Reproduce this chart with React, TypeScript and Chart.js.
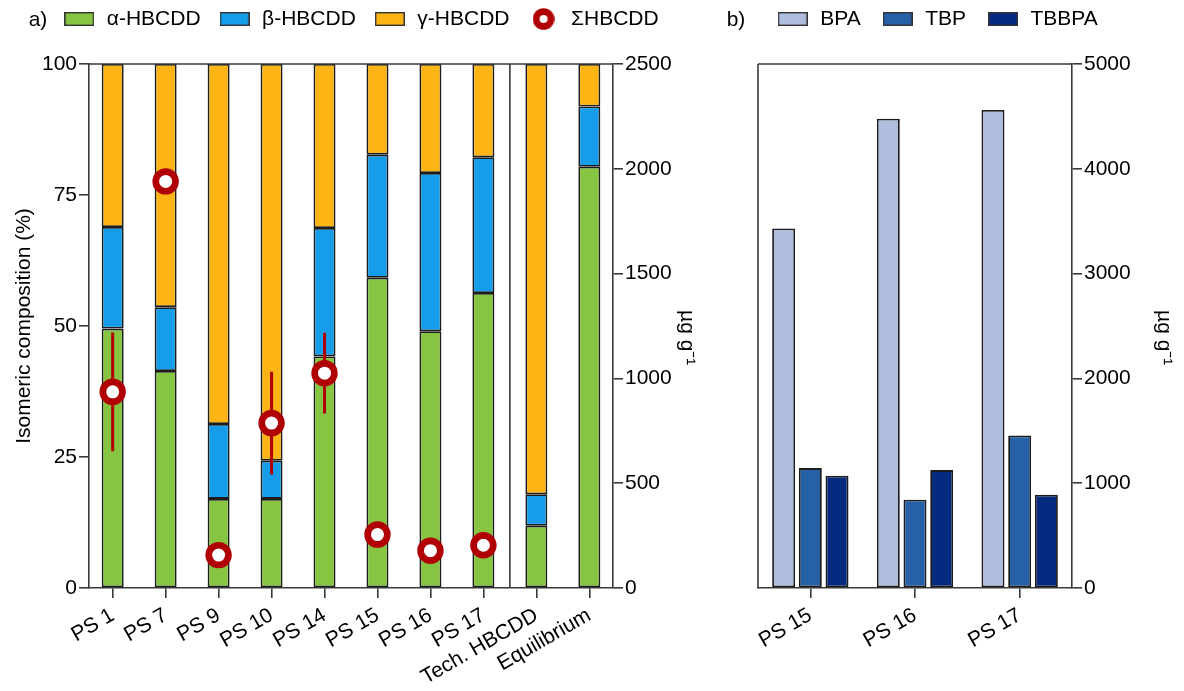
import React, { useEffect, useRef } from 'react';
import { Chart, registerables } from 'chart.js';

Chart.register(...registerables);

// ---------- data: panel a ----------
const categoriesA = ['PS 1', 'PS 7', 'PS 9', 'PS 10', 'PS 14', 'PS 15', 'PS 16', 'PS 17', 'Tech. HBCDD', 'Equilibrium'];
const alphaHBCDD = [49.5, 41.4, 17.0, 17.0, 44.2, 59.2, 49.0, 56.3, 11.9, 80.4];
const betaHBCDD = [19.4, 12.2, 14.3, 7.3, 24.5, 23.5, 30.2, 25.9, 6.0, 11.5];
const gammaHBCDD = [31.1, 46.4, 68.7, 75.7, 31.3, 17.3, 20.8, 17.8, 82.1, 8.1];
const sumHBCDD = [936, 1940, 157, 787, 1025, 255, 178, 204, null, null];
const sumHBCDDError = [283, 0, 0, 245, 193, 0, 0, 0, null, null];
const seriesLabelsA = ['α-HBCDD', 'β-HBCDD', 'γ-HBCDD', 'ΣHBCDD'];

// ---------- data: panel b ----------
const categoriesB = ['PS 15', 'PS 16', 'PS 17'];
const bpa = [3430, 4478, 4561];
const tbp = [1144, 842, 1455];
const tbbpa = [1071, 1125, 890];
const seriesLabelsB = ['BPA', 'TBP', 'TBBPA'];

// ---------- styles ----------
const FONT = '"Liberation Sans", Arial, Helvetica, sans-serif';
const AXIS = '#3a3a3a';
const EDGE = '#1c1c1c';
const GREEN = '#86C541';
const BLUE = '#159DE9';
const ORANGE = '#FDB515';
const RED = '#B00004';
const BPA_C = '#B0BEDE';
const TBP_C = '#2660A6';
const TBBPA_C = '#052A80';

Chart.defaults.font.family = FONT;
Chart.defaults.font.size = 21;
Chart.defaults.color = '#000';

function rectMarker(fill: string) {
  const c = document.createElement('canvas');
  c.width = 30;
  c.height = 14;
  const g = c.getContext('2d')!;
  g.fillStyle = fill;
  g.fillRect(0, 0, 30, 14);
  g.strokeStyle = '#333';
  g.lineWidth = 1.4;
  g.strokeRect(0.7, 0.7, 28.6, 12.6);
  return c;
}

function ringMarker(color: string) {
  const c = document.createElement('canvas');
  c.width = 22;
  c.height = 22;
  const g = c.getContext('2d')!;
  g.fillStyle = '#fff';
  g.beginPath();
  g.arc(11, 11, 7.4, 0, Math.PI * 2);
  g.fill();
  g.strokeStyle = color;
  g.lineWidth = 6.8;
  g.stroke();
  return c;
}

const legendPlacement = {
  id: 'legendPlacement',
  beforeLayout(chart: any, _a: any, opts: any) {
    const lg = chart.legend;
    if (lg && !lg.__fixed) {
      const orig = lg.fit.bind(lg);
      lg.fit = function () {
        orig();
        this.height = opts.height;
      };
      lg.__fixed = true;
    }
  },
  beforeDraw(chart: any, _a: any, opts: any) {
    const lg = chart.legend;
    if (!lg) return;
    lg.left = opts.left;
    lg.right = opts.left + 2000;
    lg.top = opts.top;
    lg.bottom = opts.top + opts.height + 20;
  },
};

const framePlugin = {
  id: 'frame',
  afterDatasetsDraw(chart: any, _a: any, opts: any) {
    const { ctx, chartArea } = chart;
    const { left, right, top, bottom } = chartArea;
    ctx.save();
    ctx.strokeStyle = AXIS;
    ctx.lineWidth = 1.6;
    ctx.beginPath();
    ctx.moveTo(left, top);
    ctx.lineTo(right, top);
    if (opts.left) {
      ctx.moveTo(left, top);
      ctx.lineTo(left, bottom);
    }
    (opts.separators || []).forEach((v: number) => {
      const x = chart.scales.x.getPixelForValue(v);
      ctx.moveTo(x, top);
      ctx.lineTo(x, bottom);
    });
    ctx.stroke();
    ctx.restore();
  },
};

const errorBarPlugin = {
  id: 'errorBars',
  beforeDatasetDraw(chart: any, args: any, opts: any) {
    if (args.index !== opts.datasetIndex) return;
    const meta = args.meta;
    const yScale = chart.scales[meta.yAxisID];
    const ctx = chart.ctx;
    ctx.save();
    ctx.strokeStyle = RED;
    ctx.lineWidth = 3;
    ctx.beginPath();
    meta.data.forEach((pt: any, i: number) => {
      const v = opts.values[i];
      const e = opts.errors[i];
      if (v == null || !e) return;
      ctx.moveTo(pt.x, yScale.getPixelForValue(v + e));
      ctx.lineTo(pt.x, yScale.getPixelForValue(v - e));
    });
    ctx.stroke();
    ctx.restore();
  },
};

const tickFont = { size: 21, family: FONT };
const plainNumber = (v: any) => String(v);

function makeChartA(canvas: HTMLCanvasElement) {
  const markers = [rectMarker(GREEN), rectMarker(BLUE), rectMarker(ORANGE), ringMarker(RED)];
  const barCommon = {
    type: 'bar' as const,
    borderColor: EDGE,
    borderWidth: 1.8,
    borderSkipped: false,
    yAxisID: 'y',
    order: 1,
    categoryPercentage: 0.5,
    barPercentage: 0.83,
  };
  return new Chart(canvas, {
    type: 'bar',
    data: {
      datasets: [
        { ...barCommon, label: seriesLabelsA[0], data: categoriesA.map((_, i) => ({ x: i, y: alphaHBCDD[i] })), backgroundColor: GREEN },
        { ...barCommon, label: seriesLabelsA[1], data: categoriesA.map((_, i) => ({ x: i, y: betaHBCDD[i] })), backgroundColor: BLUE },
        { ...barCommon, label: seriesLabelsA[2], data: categoriesA.map((_, i) => ({ x: i, y: gammaHBCDD[i] })), backgroundColor: ORANGE },
        {
          type: 'line',
          label: seriesLabelsA[3],
          data: categoriesA.map((_, i) => ({ x: i, y: sumHBCDD[i] })),
          yAxisID: 'y2',
          showLine: false,
          order: 0,
          pointStyle: 'circle',
          pointRadius: 9.85,
          pointBorderWidth: 6.7,
          pointBackgroundColor: '#fff',
          pointBorderColor: RED,
          borderColor: RED,
          backgroundColor: '#fff',
        } as any,
      ],
    },
    options: {
      responsive: false,
      animation: false,
      events: [],
      layout: { padding: 0 },
      plugins: {
        tooltip: { enabled: false },
        legend: {
          display: true,
          position: 'top',
          align: 'start',
          labels: {
            usePointStyle: true,
            pointStyleWidth: 34,
            padding: 17,
            color: '#000',
            font: { size: 21, family: FONT },
            sort: (a: any, b: any) => a.datasetIndex - b.datasetIndex,
            generateLabels: (chart: any) => {
              const items = (Chart.defaults.plugins.legend.labels as any).generateLabels(chart);
              return items.map((it: any) => ({ ...it, pointStyle: markers[it.datasetIndex], lineWidth: 0 }));
            },
          },
        },
        legendPlacement: { height: 64, left: 45.3, top: -8.5 },
        frame: { left: false, separators: [7.5] },
        errorBars: { datasetIndex: 3, values: sumHBCDD, errors: sumHBCDDError },
      } as any,
      scales: {
        x: {
          type: 'linear',
          min: -0.447,
          max: 9.447,
          offset: false,
          stacked: true,
          afterBuildTicks: (s: any) => {
            s.ticks = categoriesA.map((_, i) => ({ value: i }));
          },
          afterFit: (s: any) => {
            s.height = 103;
          },
          ticks: {
            callback: (v: any) => categoriesA[v],
            autoSkip: false,
            minRotation: 30,
            maxRotation: 30,
            padding: 5,
            font: tickFont,
            color: '#000',
          },
          grid: { display: true, drawOnChartArea: false, drawTicks: true, tickLength: 10, color: AXIS, lineWidth: 1.6, offset: false },
          border: { display: true, color: AXIS, width: 1.6 },
        },
        y: {
          position: 'left',
          stacked: true,
          min: 0,
          max: 100,
          ticks: { stepSize: 25, padding: 2, font: tickFont, color: '#000', callback: plainNumber },
          grid: { drawOnChartArea: false, tickLength: 10, color: AXIS, lineWidth: 1.6 },
          border: { display: true, color: AXIS, width: 1.6 },
          title: { display: true, text: 'Isomeric composition (%)', color: '#000', font: { size: 21, family: FONT }, padding: { top: 11.7, bottom: 0 } },
          afterFit: (s: any) => {
            s.width = 89;
          },
        },
        y2: {
          position: 'right',
          min: 0,
          max: 2500,
          ticks: { stepSize: 500, padding: 2, font: tickFont, color: '#000', callback: plainNumber },
          grid: { drawOnChartArea: false, tickLength: 10, color: AXIS, lineWidth: 1.6 },
          border: { display: true, color: AXIS, width: 1.6 },
          title: { display: true, text: '    µg g⁻¹', color: '#000', font: { size: 21, family: FONT }, padding: { top: 0.4, bottom: 0 } },
          afterFit: (s: any) => {
            s.width = 87;
          },
        },
      } as any,
    },
    plugins: [legendPlacement, framePlugin, errorBarPlugin] as any,
  });
}

function makeChartB(canvas: HTMLCanvasElement) {
  const markers = [rectMarker(BPA_C), rectMarker(TBP_C), rectMarker(TBBPA_C)];
  const barCommon = {
    borderColor: EDGE,
    borderWidth: 1.8,
    borderSkipped: false,
    categoryPercentage: 0.765,
    barPercentage: 0.86,
  };
  return new Chart(canvas, {
    type: 'bar',
    data: {
      labels: categoriesB,
      datasets: [
        { ...barCommon, label: seriesLabelsB[0], data: bpa, backgroundColor: BPA_C },
        { ...barCommon, label: seriesLabelsB[1], data: tbp, backgroundColor: TBP_C },
        { ...barCommon, label: seriesLabelsB[2], data: tbbpa, backgroundColor: TBBPA_C },
      ] as any,
    },
    options: {
      responsive: false,
      animation: false,
      events: [],
      layout: { padding: { left: 58, right: 0, top: 0, bottom: 0 } },
      plugins: {
        tooltip: { enabled: false },
        legend: {
          display: true,
          position: 'top',
          align: 'start',
          labels: {
            usePointStyle: true,
            pointStyleWidth: 34,
            padding: 20,
            color: '#000',
            font: { size: 21, family: FONT },
            generateLabels: (chart: any) => {
              const items = (Chart.defaults.plugins.legend.labels as any).generateLabels(chart);
              return items.map((it: any) => ({ ...it, pointStyle: markers[it.datasetIndex], lineWidth: 0 }));
            },
          },
        },
        legendPlacement: { height: 64, left: 55.7, top: -11.5 },
        frame: { left: true, separators: [] },
      } as any,
      scales: {
        x: {
          type: 'category',
          offset: true,
          afterFit: (s: any) => {
            s.height = 103;
          },
          ticks: { autoSkip: false, minRotation: 30, maxRotation: 30, padding: 5, font: tickFont, color: '#000' },
          grid: { display: true, drawOnChartArea: false, drawTicks: true, tickLength: 10, color: AXIS, lineWidth: 1.6, offset: false },
          border: { display: true, color: AXIS, width: 1.6 },
        },
        y: {
          position: 'right',
          min: 0,
          max: 5000,
          ticks: { stepSize: 1000, padding: 2, font: tickFont, color: '#000', callback: plainNumber },
          grid: { drawOnChartArea: false, tickLength: 10, color: AXIS, lineWidth: 1.6 },
          border: { display: true, color: AXIS, width: 1.6 },
          title: { display: true, text: '    µg g⁻¹', color: '#000', font: { size: 21, family: FONT }, padding: { top: 7.9, bottom: 0 } },
          afterFit: (s: any) => {
            s.width = 112;
          },
        },
      } as any,
    },
    plugins: [legendPlacement, framePlugin] as any,
  });
}

export default function App() {
  const refA = useRef<HTMLCanvasElement>(null);
  const refB = useRef<HTMLCanvasElement>(null);

  useEffect(() => {
    const a = makeChartA(refA.current!);
    const b = makeChartB(refB.current!);
    return () => {
      a.destroy();
      b.destroy();
    };
  }, []);

  const panelLabel: React.CSSProperties = {
    position: 'absolute',
    top: 7,
    fontFamily: FONT,
    fontSize: 21,
    lineHeight: '24px',
    color: '#000',
  };

  return (
    <div style={{ position: 'absolute', left: 0, top: 0, width: 1184, height: 691, background: '#fff', overflow: 'hidden' }}>
      <canvas ref={refA} width={700} height={691} style={{ position: 'absolute', left: 0, top: 0, width: 700, height: 691 }} />
      <canvas ref={refB} width={484} height={691} style={{ position: 'absolute', left: 700, top: 0, width: 484, height: 691 }} />
      <div style={{ ...panelLabel, left: 28.7 }}>a)</div>
      <div style={{ ...panelLabel, left: 726.7 }}>b)</div>
    </div>
  );
}
